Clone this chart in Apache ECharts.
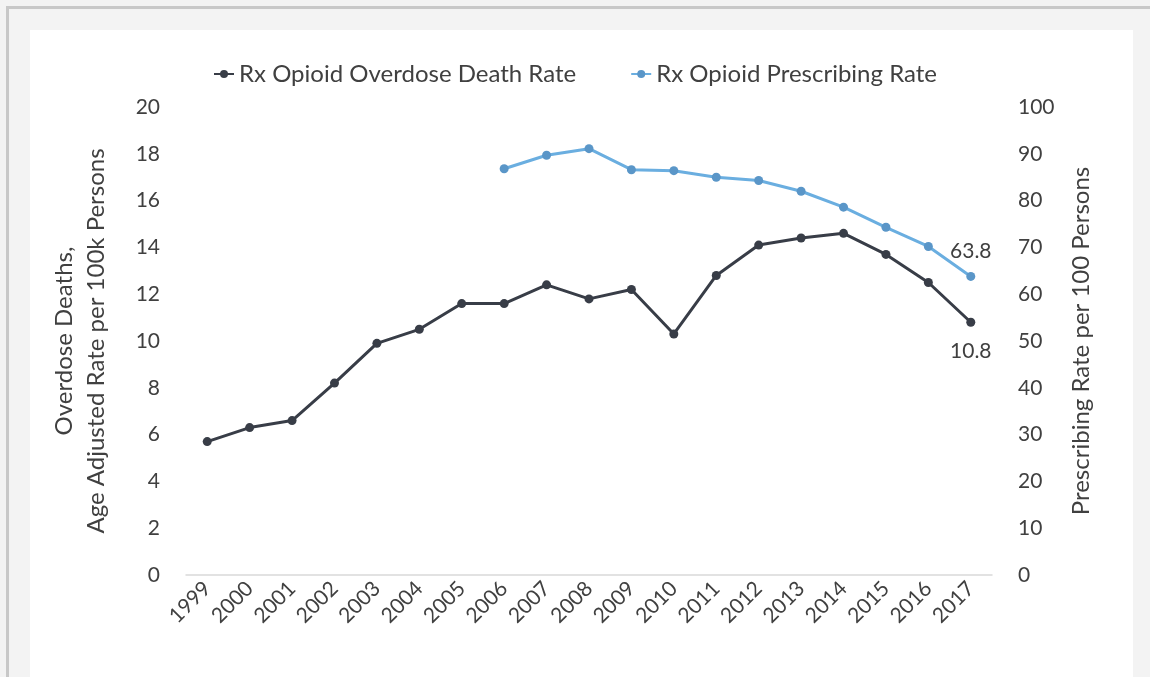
<!DOCTYPE html>
<html>
<head>
<meta charset="utf-8">
<script src="https://cdn.jsdelivr.net/npm/echarts@6/dist/echarts.min.js"></script>
<style>
html,body{margin:0;padding:0;background:#f3f3f3;}
#chart{width:1150px;height:677px;}
</style>
</head>
<body>
<div id="chart"></div>
<script>
var years = ['1999','2000','2001','2002','2003','2004','2005','2006','2007','2008','2009','2010','2011','2012','2013','2014','2015','2016','2017'];
var deathRate = [5.7, 6.3, 6.6, 8.2, 9.9, 10.5, 11.6, 11.6, 12.4, 11.8, 12.2, 10.3, 12.8, 14.1, 14.4, 14.6, 13.7, 12.5, 10.8];
var prescribingRate = [null, null, null, null, null, null, null, 86.8, 89.7, 91.1, 86.6, 86.4, 85.0, 84.3, 82.0, 78.6, 74.3, 70.2, 63.8];
var leftTicks = [0, 20, 2];
var rightTicks = [0, 100, 10];
var seriesNames = ['Rx Opioid Overdose Death Rate', 'Rx Opioid Prescribing Rate'];
var leftAxisName = 'Overdose Deaths,\nAge Adjusted Rate per 100k Persons';
var rightAxisName = 'Prescribing Rate per 100 Persons';

var FONT = 'Lato';
var TXT = '#404040';
var chart = echarts.init(document.getElementById('chart'), null, {renderer: 'canvas'});

function lastLabel(arr, pos, dist) {
  return arr.map(function (v, i) {
    if (i === arr.length - 1 && v != null) {
      return {value: v, label: {show: true, position: pos, distance: dist, color: TXT, fontSize: 21, fontFamily: FONT}};
    }
    return v;
  });
}

chart.setOption({
  backgroundColor: '#f3f3f3',
  animation: false,
  graphic: [
    {type: 'rect', z: -10, silent: true, shape: {x: 6, y: 6, width: 1150, height: 700}, style: {fill: '#c8c8c8'}},
    {type: 'rect', z: -9, silent: true, shape: {x: 9, y: 9, width: 1150, height: 700}, style: {fill: '#f3f3f3'}},
    {type: 'rect', z: -8, silent: true, shape: {x: 30, y: 30, width: 1103, height: 700}, style: {fill: '#ffffff'}}
  ],
  legend: {
    top: 57,
    left: 'center',
    itemGap: 54,
    itemWidth: 20,
    itemHeight: 10,
    textStyle: {color: TXT, fontSize: 24, fontFamily: FONT},
    data: seriesNames
  },
  grid: {left: 186, right: 158, top: 107, bottom: 102},
  xAxis: {
    type: 'category',
    data: years,
    boundaryGap: true,
    axisLine: {show: true, lineStyle: {color: '#d9d9d9', width: 1.5}},
    axisTick: {show: false},
    axisLabel: {rotate: 45, color: TXT, fontSize: 21, fontFamily: FONT, margin: 10, interval: 0}
  },
  yAxis: [
    {
      type: 'value',
      min: leftTicks[0], max: leftTicks[1], interval: leftTicks[2],
      name: leftAxisName,
      nameLocation: 'middle',
      nameGap: 74,
      nameRotate: 90,
      nameTextStyle: {color: TXT, fontSize: 24, fontFamily: FONT, lineHeight: 32},
      axisLine: {show: false},
      axisTick: {show: false},
      splitLine: {show: false},
      axisLabel: {color: TXT, fontSize: 21, fontFamily: FONT, margin: 26}
    },
    {
      type: 'value',
      min: rightTicks[0], max: rightTicks[1], interval: rightTicks[2],
      name: rightAxisName,
      nameLocation: 'middle',
      nameGap: 77,
      nameRotate: 90,
      nameTextStyle: {color: TXT, fontSize: 24, fontFamily: FONT},
      axisLine: {show: false},
      axisTick: {show: false},
      splitLine: {show: false},
      axisLabel: {color: TXT, fontSize: 21, fontFamily: FONT, margin: 26}
    }
  ],
  series: [
    {
      name: seriesNames[0],
      type: 'line',
      yAxisIndex: 0,
      data: lastLabel(deathRate, 'bottom', 14),
      symbol: 'circle',
      symbolSize: 9,
      lineStyle: {color: '#383d47', width: 3},
      itemStyle: {color: '#383d47'}
    },
    {
      name: seriesNames[1],
      type: 'line',
      yAxisIndex: 1,
      data: lastLabel(prescribingRate, 'top', 10),
      symbol: 'circle',
      symbolSize: 9,
      lineStyle: {color: '#6aaee0', width: 3},
      itemStyle: {color: '#5a96c8'}
    }
  ]
});
</script>
</body>
</html>
